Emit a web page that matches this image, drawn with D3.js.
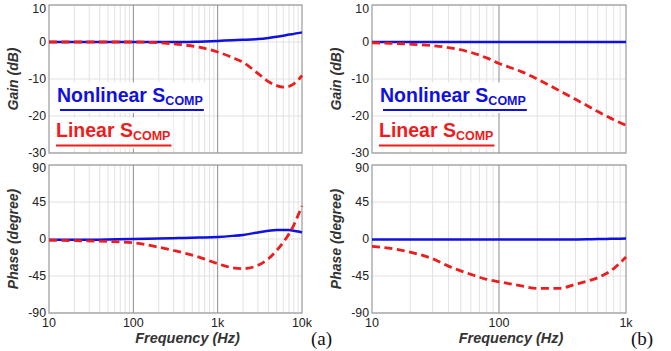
<!DOCTYPE html>
<html><head><meta charset="utf-8">
<script src="https://cdn.jsdelivr.net/npm/d3@7"></script>
<style>body{margin:0;background:#fff}svg{display:block}</style>
</head><body><svg id="c" width="671" height="351"></svg>
<script>
// ---- data ----
const freqA = [10,20,50,100,200,300,400,600,1000,1500,2000,3000,4000,5000,6000,7000,8000,9000,10000];
const gainA_nonlinear = [0,0,0,0,0,0,0,0.1,0.3,0.5,0.6,0.8,1.1,1.4,1.7,2.0,2.2,2.4,2.6];
const gainA_linear = [0,0,0,0,-0.2,-0.5,-0.8,-1.4,-2.7,-4.2,-5.5,-8.5,-10.7,-11.8,-12.2,-12.0,-11.3,-10.3,-9];
const phaseA_nonlinear = [-1,-1,-0.6,0,0.5,1,1.3,1.8,2.5,3.8,5,8,10,11,11,11,10,9,8];
const phaseA_linear = [-1.5,-2,-3,-4.5,-10,-14,-17,-22,-30,-35,-36,-32,-24,-14,-4,6,17,29,40];

const freqB = [10,15,20,30,40,60,80,100,150,200,300,400,500,600,700,800,900,1000];
const gainB_nonlinear = [0,0,0,0,0,0,0,0,0,0,0,0,0,0,0,0,0,0];
const gainB_linear = [-0.2,-0.4,-0.6,-1.0,-1.5,-2.8,-4.3,-5.8,-8,-10,-13.2,-15.5,-17.3,-18.8,-20,-21,-21.8,-22.5];
const phaseB_nonlinear = [-0.5,-0.5,-0.5,-0.5,-0.5,-0.5,-0.5,-0.5,-0.5,-0.5,-0.5,-0.5,-0.3,0,0,0.3,0.4,0.5];
const phaseB_linear = [-9,-12,-16,-24,-33,-43,-49,-52,-57,-60,-60,-55,-51,-47,-42,-36,-29,-22];

const gainTicks = [10,0,-10,-20,-30];
const phaseTicks = [90,45,0,-45,-90];
const freqTickLabelsA = ["10","100","1k","10k"];
const freqTickLabelsB = ["10","100","1k"];
const legendLabels = ["Nonlinear S","Linear S"];
const legendSub = "COMP";

// ---- drawing ----
const svg = d3.select("#c");
const BLUE = "#1010e0", RED = "#ee1c1c";
const gainTop = 5, gainBot = 153, phTop = 165, phBot = 313;

function panel(x0, x1, fmax, freq, gN, gL, pN, pL, tickLabels, letter, letterX) {
  const x = d3.scaleLog().domain([10, fmax]).range([x0, x1]);
  const yG = d3.scaleLinear().domain([-30, 10]).range([gainBot, gainTop]);
  const yP = d3.scaleLinear().domain([-90, 90]).range([phBot, phTop]);
  const decades = [];
  for (let d = 10; d <= fmax; d *= 10) decades.push(d);
  const minors = [];
  for (let d = 10; d < fmax; d *= 10) for (let k = 2; k <= 9; k++) minors.push(d * k);

  [[yG, gainTicks, 13], [yP, phaseTicks, 172]].forEach(([y, ticks, minTop]) => {
    const g = svg.append("g");
    g.selectAll(".mn").data(minors).join("line")
      .attr("x1", d => x(d)).attr("x2", d => x(d))
      .attr("y1", y.range()[0]).attr("y2", y.range()[1])
      .attr("stroke", "#e2e2e2").attr("stroke-width", 1);
    g.selectAll(".hz").data(ticks).join("line")
      .attr("x1", x0).attr("x2", x1)
      .attr("y1", d => y(d)).attr("y2", d => y(d))
      .attr("stroke", "#e2e2e2").attr("stroke-width", 1);
    g.selectAll(".mj").data(decades.slice(1, -1)).join("line")
      .attr("x1", d => x(d)).attr("x2", d => x(d))
      .attr("y1", y.range()[0]).attr("y2", y.range()[1])
      .attr("stroke", "#8c8c8c").attr("stroke-width", 1);
    g.append("rect").attr("x", x0).attr("y", y.range()[1])
      .attr("width", x1 - x0).attr("height", y.range()[0] - y.range()[1])
      .attr("fill", "none").attr("stroke", "#9a9a9a").attr("stroke-width", 1.2);
    g.selectAll(".tl").data(ticks).join("text")
      .attr("x", x0 - 3).attr("y", d => Math.max(y(d) + 4, minTop))
      .attr("text-anchor", "end").attr("font-family", "Liberation Sans, Arial, sans-serif")
      .attr("font-size", 12.3).attr("fill", "#222").text(d => d);
  });

  // x tick labels
  svg.append("g").selectAll("text").data(decades).join("text")
    .attr("x", d => x(d)).attr("y", 327).attr("text-anchor", "middle")
    .attr("font-family", "Liberation Sans, Arial, sans-serif").attr("font-size", 12.5)
    .attr("fill", "#222").text((d, i) => tickLabels[i]);

  // axis titles
  const tfont = "Liberation Sans, Arial, sans-serif";
  const ax = x0 - 31;
  svg.append("text").attr("transform", `translate(${ax},${(gainTop+gainBot)/2}) rotate(-90)`)
    .attr("text-anchor", "middle").attr("font-family", tfont).attr("font-size", 14)
    .attr("font-weight", "bold").attr("font-style", "italic").attr("fill", "#333").text("Gain (dB)");
  svg.append("text").attr("transform", `translate(${ax},${(phTop+phBot)/2}) rotate(-90)`)
    .attr("text-anchor", "middle").attr("font-family", tfont).attr("font-size", 14)
    .attr("font-weight", "bold").attr("font-style", "italic").attr("fill", "#333").text("Phase (degree)");
  svg.append("text").attr("x", (x0 + x1) / 2 + 12).attr("y", 342.5)
    .attr("text-anchor", "middle").attr("font-family", tfont).attr("font-size", 14.5)
    .attr("font-weight", "bold").attr("font-style", "italic").attr("fill", "#333").text("Frequency (Hz)");
  svg.append("text").attr("x", letterX).attr("y", 345)
    .attr("font-family", "Liberation Serif, Times New Roman, serif").attr("font-size", 19)
    .attr("fill", "#111").text(letter);

  // curves
  const curve = d3.curveMonotoneX;
  const draw = (vals, y, color, dashed) => {
    const line = d3.line().x((d, i) => x(freq[i])).y(d => y(d)).curve(curve);
    svg.append("path").datum(vals).attr("d", line).attr("fill", "none")
      .attr("stroke", color).attr("stroke-width", dashed ? 2.8 : 2.5)
      .attr("stroke-dasharray", dashed ? "8,4.5" : null);
  };
  draw(gN, yG, BLUE, false);
  draw(gL, yG, RED, true);
  draw(pN, yP, BLUE, false);
  draw(pL, yP, RED, true);

  // legend
  const lg = svg.append("g");
  const rows = [
    {label: legendLabels[0], color: BLUE, x: x0 + 8, base: 101.5, uy: 110, ux0: x0 + 11},
    {label: legendLabels[1], color: RED, x: x0 + 7, base: 136.5, uy: 145.5, ux0: x0 + 7}
  ];
  rows.forEach(r => {
    const bg = lg.append("rect").attr("fill", "#fff");
    const t = lg.append("text").attr("x", r.x).attr("y", r.base)
      .attr("font-family", tfont).attr("font-weight", "bold").attr("font-size", 19.5)
      .attr("fill", r.color);
    t.append("tspan").text(r.label);
    t.append("tspan").attr("dy", 3.5).attr("font-size", 12.5).text(legendSub);
    const bb = t.node().getBBox();
    const uxe = bb.x + bb.width + 1;
    bg.attr("x", bb.x - 3).attr("y", bb.y - 1).attr("width", bb.width + 6).attr("height", r.uy - bb.y + 4);
    lg.append("line").attr("x1", r.ux0).attr("x2", uxe).attr("y1", r.uy).attr("y2", r.uy)
      .attr("stroke", r.color).attr("stroke-width", 2);
  });
}

panel(49, 302, 10000, freqA, gainA_nonlinear, gainA_linear, phaseA_nonlinear, phaseA_linear, freqTickLabelsA, "(a)", 311);
panel(372, 626, 1000, freqB, gainB_nonlinear, gainB_linear, phaseB_nonlinear, phaseB_linear, freqTickLabelsB, "(b)", 631);
</script>
</body></html>
